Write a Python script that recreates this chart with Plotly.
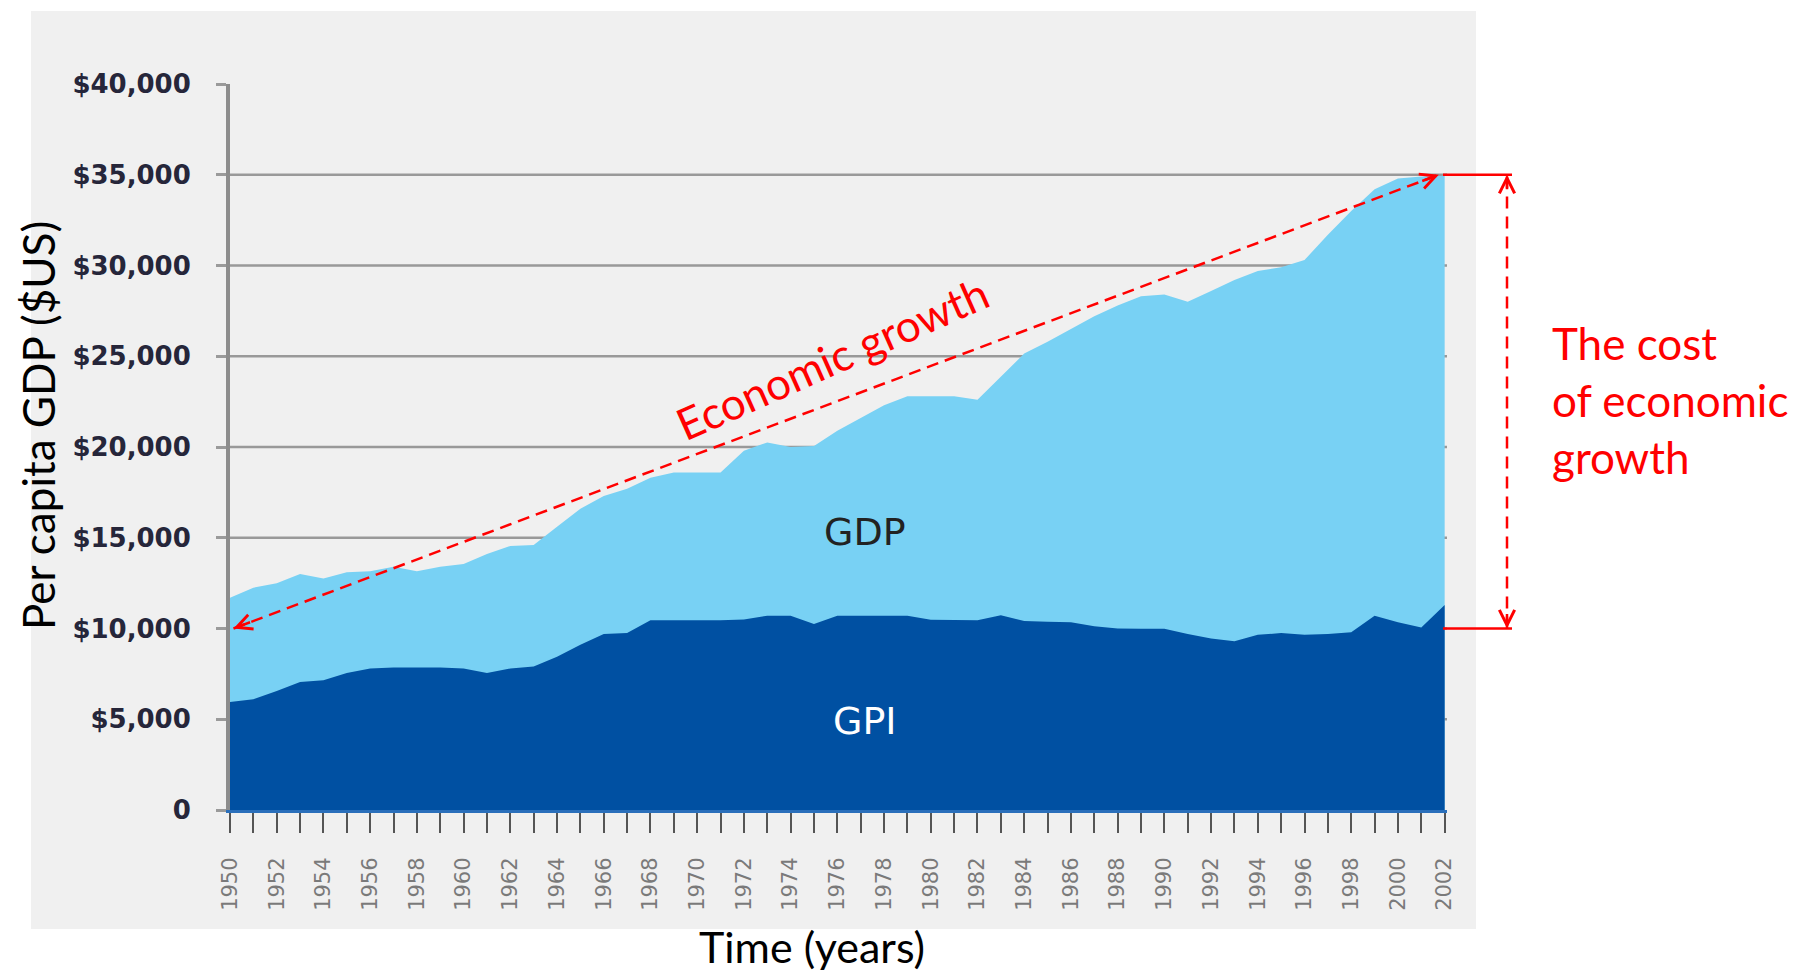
import plotly.graph_objects as go

# ---------------- data ----------------
YEARS = list(range(1950, 2003))

GDP = [11700, 12250, 12500, 13000, 12750, 13100, 13150, 13400, 13150, 13400,
       13550, 14100, 14550, 14600, 15600, 16600, 17300, 17700, 18300, 18600,
       18600, 18600, 19800, 20250, 20000, 20050, 20900, 21600, 22300, 22800,
       22800, 22800, 22600, 23900, 25150, 25800, 26500, 27200, 27800, 28300,
       28400, 28000, 28600, 29200, 29700, 29900, 30300, 31700, 33000, 34200,
       34800, 34900, 34950]

GPI = [5950, 6100, 6550, 7050, 7150, 7550, 7800, 7850, 7850, 7850,
       7800, 7550, 7800, 7900, 8450, 9100, 9700, 9750, 10450, 10450,
       10450, 10450, 10500, 10700, 10700, 10250, 10700, 10700, 10700, 10700,
       10480, 10450, 10450, 10730, 10420, 10370, 10340, 10120, 10000, 9990,
       9990, 9700, 9450, 9300, 9650, 9750, 9650, 9700, 9800, 10700,
       10350, 10050, 11300]

Y_TICKS = [0, 5000, 10000, 15000, 20000, 25000, 30000, 35000, 40000]
Y_TICK_TEXT = ["0", "$5,000", "$10,000", "$15,000", "$20,000", "$25,000",
               "$30,000", "$35,000", "$40,000"]
X_TICKS = list(range(1950, 2003, 2))
GRID_VALUES = Y_TICKS[1:-1]

# annotation anchor values
GROWTH_START = (1950.15, 10000)
GROWTH_END = (2001.75, 35000)
COST_TOP = 35000
COST_BOTTOM = 10000

# ---------------- geometry ----------------
W, H = 1794, 976
ML, MR, MT, MB = 230, 347, 84, 166
PW = W - ML - MR
PH = H - MT - MB


def px(xpix):
    return (xpix - ML) / PW


def py(ypix):
    return (H - MB - ypix) / PH


LIGHT = "#78d1f4"
DARK = "#0050a2"
RED = "#ff0000"

fig = go.Figure()
fig.add_trace(go.Scatter(x=YEARS, y=GDP, mode="lines", line=dict(width=0, color=LIGHT),
                         fill="tozeroy", fillcolor=LIGHT, hoverinfo="skip", showlegend=False))
fig.add_trace(go.Scatter(x=YEARS, y=GPI, mode="lines", line=dict(width=0, color=DARK),
                         fill="tozeroy", fillcolor=DARK, hoverinfo="skip", showlegend=False))

shapes = [
    dict(type="rect", xref="paper", yref="paper", x0=px(31), x1=px(1476), y0=py(929), y1=py(11),
         fillcolor="#f0f0f0", line=dict(width=0), layer="below"),
]
for g in GRID_VALUES:
    shapes.append(dict(type="line", xref="paper", yref="y", x0=0, x1=1, y0=g, y1=g,
                       line=dict(color="#999999", width=2.5), layer="below"))

# economic growth dashed line
shapes.append(dict(type="line", xref="x", yref="y",
                   x0=GROWTH_START[0], y0=GROWTH_START[1], x1=GROWTH_END[0], y1=GROWTH_END[1],
                   line=dict(color=RED, width=2.5, dash="12px,7px"), layer="above"))
# cost of growth vertical dashed line + caps
XV = px(1507)
shapes.append(dict(type="line", xref="paper", yref="y", x0=XV, x1=XV, y0=COST_BOTTOM, y1=COST_TOP,
                   line=dict(color=RED, width=2.5, dash="12px,8px"), layer="above"))
for v in (COST_TOP, COST_BOTTOM):
    shapes.append(dict(type="line", xref="paper", yref="y", x0=px(1443), x1=px(1512), y0=v, y1=v,
                       line=dict(color=RED, width=2.5), layer="above"))

head = dict(showarrow=True, arrowhead=5, arrowsize=1.2, arrowwidth=2.5, arrowcolor=RED, text="")
f = 0.015
dx = GROWTH_END[0] - GROWTH_START[0]
dy = GROWTH_END[1] - GROWTH_START[1]
txt = dict(showarrow=False, xanchor="center", yanchor="middle")
annotations = [
    dict(head, xref="x", yref="y", axref="x", ayref="y", x=GROWTH_END[0], y=GROWTH_END[1],
         ax=GROWTH_END[0] - f * dx, ay=GROWTH_END[1] - f * dy),
    dict(head, xref="x", yref="y", axref="x", ayref="y", x=GROWTH_START[0], y=GROWTH_START[1],
         ax=GROWTH_START[0] + f * dx, ay=GROWTH_START[1] + f * dy),
    dict(head, xref="paper", yref="y", x=XV, y=COST_TOP, ax=0, ay=16),
    dict(head, xref="paper", yref="y", x=XV, y=COST_BOTTOM, ax=0, ay=-16),
    dict(txt, text="Per capita GDP ($US)", xref="paper", yref="paper", x=px(38), y=py(426),
         textangle=-90, font=dict(family="Lato", size=44, color="#000000")),
    dict(txt, text="Time (years)", xref="paper", yref="paper", x=px(812), y=py(946),
         font=dict(family="Lato", size=43, color="#000000")),
    dict(txt, text="Economic growth", xref="paper", yref="paper", x=px(832), y=py(358),
         textangle=-24, font=dict(family="Lato", size=44, color=RED)),
    dict(txt, text="The cost<br>of economic<br>growth", xref="paper", yref="paper", x=px(1550),
         y=py(400), xanchor="left", align="left",
         font=dict(family="Lato", size=44, color=RED)),
    dict(txt, text="GDP", xref="x", yref="y", x=1977.2, y=15300,
         font=dict(family="DejaVu Sans", size=38, color="#222222")),
    dict(txt, text="GPI", xref="x", yref="y", x=1977.2, y=4930,
         font=dict(family="DejaVu Sans", size=38, color="#ffffff")),
]

fig.update_layout(
    width=W, height=H,
    margin=dict(l=ML, r=MR, t=MT, b=MB, pad=0),
    paper_bgcolor="#ffffff",
    plot_bgcolor="rgba(0,0,0,0)",
    font=dict(family="Lato"),
    shapes=shapes,
    annotations=annotations,
    showlegend=False,
    xaxis=dict(
        range=[1950, 2002.1], tickmode="array", tickvals=X_TICKS,
        ticktext=[str(t) for t in X_TICKS], tickangle=-90,
        tickfont=dict(family="DejaVu Sans", size=21, color="#7a7a7a"),
        ticks="outside", ticklen=20, tickwidth=2, tickcolor="#555555",
        minor=dict(dtick=1, tick0=1950, ticks="outside", ticklen=20, tickwidth=2,
                   tickcolor="#555555", showgrid=False),
        showgrid=False, zeroline=False,
        showline=True, linecolor="#2a6fbb", linewidth=3,
        ticklabelstandoff=16,
    ),
    yaxis=dict(
        range=[0, 40000], tickmode="array", tickvals=Y_TICKS, ticktext=Y_TICK_TEXT,
        tickfont=dict(family="DejaVu Sans", size=26, color="#26263a", weight="bold"),
        ticks="outside", ticklen=10, tickwidth=3, tickcolor="#9a9a9a",
        showgrid=False, zeroline=False,
        showline=True, linecolor="#8c8c8c", linewidth=4,
        ticklabelstandoff=20,
    ),
)

fig.write_html("out.html", config=dict(displayModeBar=False),
               post_script="document.body.style.margin='0';")
